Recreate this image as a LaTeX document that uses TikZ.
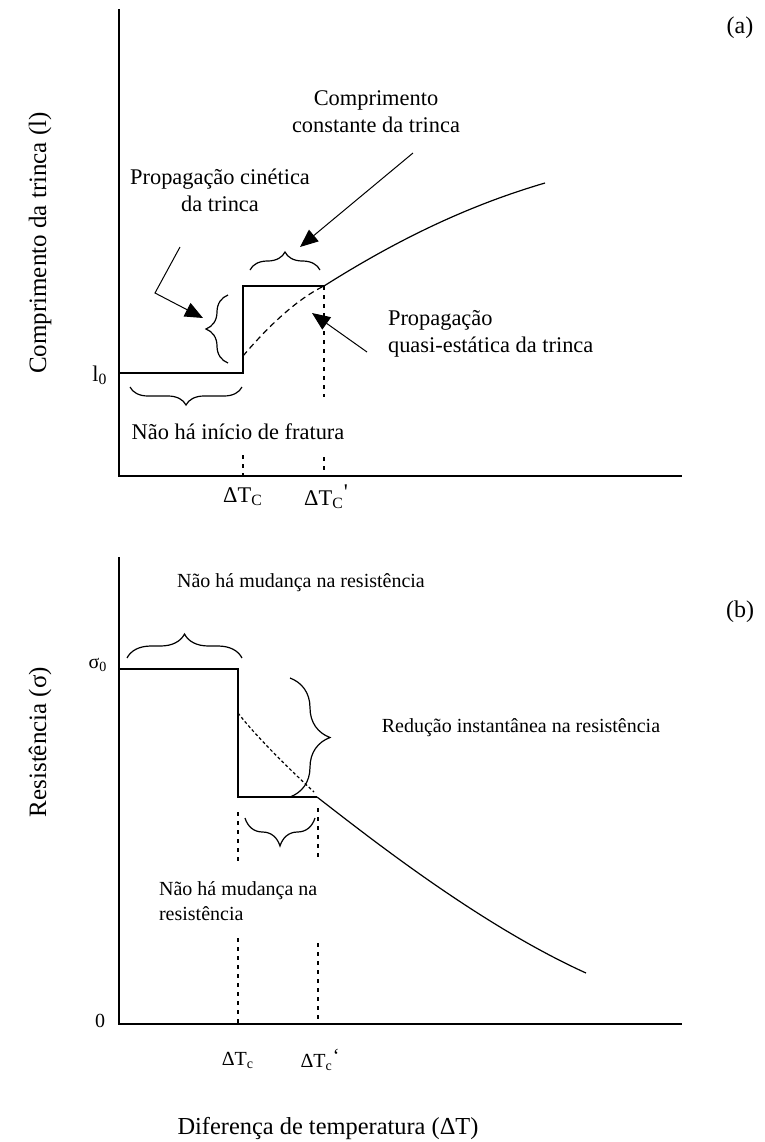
\documentclass[tikz,border=0pt]{standalone}
\usepackage{fontspec}
\setmainfont{Liberation Serif}
\usetikzlibrary{arrows.meta,decorations.pathreplacing}

\begin{document}
\begin{tikzpicture}[x=0.5pt,y=-0.5pt,
    axis/.style={line width=1pt},
    curve/.style={line width=0.6pt},
    dashcurve/.style={line width=0.6pt,dash pattern=on 3pt off 2pt},
    dotline/.style={line width=0.6pt,dash pattern=on 2pt off 2.5pt},
    bracemark/.style={line width=0.6pt,decorate,decoration={brace,amplitude=#1}},
    pointer/.style={line width=0.5pt,-{Triangle[length=9pt,width=7.5pt]}},
    ylabel/.style={rotate=90,font=\fontsize{12.5}{15}\selectfont}]
    \useasboundingbox (0,0) rectangle (765,1142);

      \begin{scope}[every node/.style={font=\fontsize{11.2}{13.5}\selectfont}]
        \coordinate (atop) at (119,9);
        \coordinate (ao)   at (119,476);
        \coordinate (aend) at (682,476);
        \coordinate (a1)   at (119,373);
        \coordinate (a2)   at (243,373);
        \coordinate (a3)   at (243,286);
        \coordinate (a4)   at (324,286);
        \coordinate (a5)   at (545,183);
        \coordinate (a6)   at (243,356);
        \coordinate (a7)   at (243,455);
        \coordinate (a8)   at (243,476);
        \coordinate (a9)   at (324,397);
        \coordinate (a10)  at (324,457);
        \coordinate (a11)  at (324,476);

        \draw[axis] (atop) -- (ao) -- (aend);
        \draw[curve] (a1) -- (a2) -- (a3) -- (a4);
        \draw[curve] (a4) .. controls (400,238) and (470,205) .. (a5);
        \draw[dashcurve] (a6) .. controls (265,330) and (295,300) .. (a4);
        \draw[dotline] (a7) -- (a8);
        \draw[dotline] (a4) -- (a9);
        \draw[dotline] (a10) -- (a11);

        \draw[bracemark=9pt] (242,387) -- (130,387);
        \draw[bracemark=11pt] (228,363) -- (228,295);
        \draw[bracemark=9pt] (250,270) -- (320,270);

        \node (kin)   at (220,190) [align=center] {Propagação cinética\\da trinca};
        \node (const) at (376,112) [align=center] {Comprimento\\constante da trinca};
        \node (quasi) at (381,334) [align=left,anchor=west] {Propagação\\quasi-estática da trinca};
        \node (nofr)  at (238,432) {Não há início de fratura};
        \node (l0)    at (100,375) {l\textsubscript{0}};
        \node (tca)   at (243,497) {ΔT\textsubscript{C}};
        \node (tcb)   at (326,497) {ΔT\textsubscript{C}\raisebox{0.6ex}{\textquotesingle}};
        \node (lbla)  at (740,28) [font=\fontsize{12}{14}\selectfont] {(a)};
        \node (ylba)  at (40,243) [ylabel] {Comprimento da trinca (l)};

        \coordinate (k1) at (180,247);
        \coordinate (k2) at (155,293);
        \coordinate (k3) at (203,318);
        \coordinate (c1) at (413,153);
        \coordinate (c2) at (300,247);
        \coordinate (q1) at (367,352);
        \coordinate (q2) at (312,313);
        \draw[pointer] (k1) -- (k2) -- (k3);
        \draw[pointer] (c1) -- (c2);
        \draw[pointer] (q1) -- (q2);
      \end{scope}

      \begin{scope}[every node/.style={font=\fontsize{10}{12.5}\selectfont}]
        \coordinate (btop) at (119,557);
        \coordinate (bo)   at (119,1024);
        \coordinate (bend) at (682,1024);
        \coordinate (b1)   at (119,669);
        \coordinate (b2)   at (238,669);
        \coordinate (b3)   at (238,797);
        \coordinate (b4)   at (317,797);
        \coordinate (b5)   at (586,973);
        \coordinate (b6)   at (238,713);
        \coordinate (b7)   at (238,812);
        \coordinate (b8)   at (238,862);
        \coordinate (b9)   at (238,938);
        \coordinate (b10)  at (238,1024);
        \coordinate (b11)  at (318,808);
        \coordinate (b12)  at (318,858);
        \coordinate (b13)  at (318,943);
        \coordinate (b14)  at (318,1024);

        \draw[axis] (btop) -- (bo) -- (bend);
        \draw[curve] (b1) -- (b2) -- (b3) -- (b4);
        \draw[curve] (b4) .. controls (370,838) and (480,925) .. (b5);
        \draw[curve,dash pattern=on 1.5pt off 1.2pt] (b6) .. controls (255,735) and (285,765) .. (314,792);
        \draw[dotline] (b7) -- (b8);
        \draw[dotline] (b9) -- (b10);
        \draw[dotline] (b11) -- (b12);
        \draw[dotline] (b13) -- (b14);

        \draw[bracemark=12pt] (127,658) -- (242,658);
        \draw[bracemark=20pt] (290,678) -- (290,797);
        \draw[bracemark=14pt] (315,818) -- (245,818);

        \node (nomud)  at (301,583) {Não há mudança na resistência};
        \node (reduc)  at (521,728) {Redução instantânea na resistência};
        \node (nomud2) at (152,901) [align=left,anchor=west] {Não há mudança na\\resistência};
        \node (s0)     at (98,665) {σ\textsubscript{0}};
        \node (zero)   at (100,1021) {0};
        \node (tcc)    at (238,1060) {ΔT\textsubscript{c}};
        \node (tcd)    at (320,1060) {ΔT\textsubscript{c}\raisebox{0.6ex}{`}};
        \node (lblb)   at (740,612) [font=\fontsize{12}{14}\selectfont] {(b)};
        \node (ylbb)   at (40,742) [ylabel] {Resistência (σ)};
        \node (xlb)    at (328,1128) [font=\fontsize{12.2}{14}\selectfont] {Diferença de temperatura (ΔT)};
      \end{scope}

    \end{tikzpicture}
\end{document}
